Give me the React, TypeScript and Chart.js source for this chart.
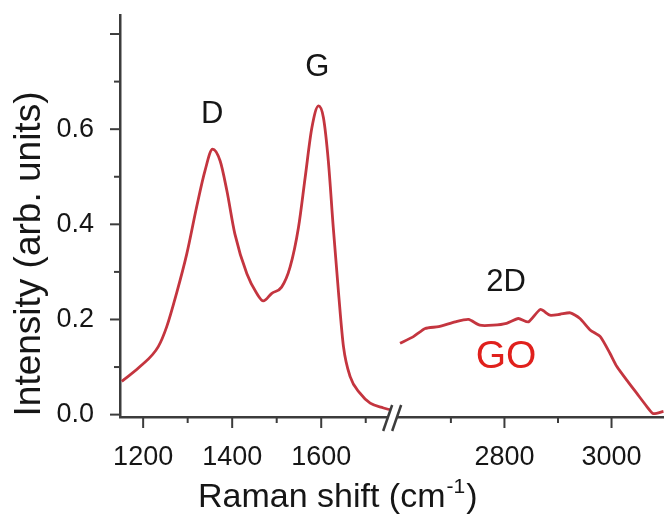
import React, { useEffect, useRef } from 'react';
import { Chart, registerables } from 'chart.js';

Chart.register(...registerables);

// ---- Data ----
// Left segment (D and G bands)
const leftShift = [1152, 1193, 1234, 1253, 1275, 1298, 1320, 1339, 1356, 1373, 1388, 1406, 1433, 1455, 1470, 1489, 1511, 1530, 1549, 1564, 1579, 1594, 1605, 1616, 1627, 1639, 1650, 1665, 1687, 1710, 1740, 1755];
const leftIntensity = [0.070, 0.101, 0.143, 0.185, 0.255, 0.338, 0.436, 0.513, 0.558, 0.533, 0.471, 0.380, 0.296, 0.255, 0.239, 0.255, 0.268, 0.310, 0.394, 0.499, 0.603, 0.649, 0.624, 0.533, 0.394, 0.255, 0.143, 0.080, 0.045, 0.024, 0.014, 0.010];
// Right segment (2D band)
const rightShift = [2605, 2630, 2652, 2677, 2708, 2733, 2754, 2779, 2804, 2826, 2845, 2867, 2885, 2904, 2923, 2941, 2960, 2979, 2997, 3010, 3028, 3047, 3066, 3078, 3097];
const rightIntensity = [0.150, 0.164, 0.181, 0.185, 0.195, 0.200, 0.188, 0.188, 0.192, 0.202, 0.195, 0.221, 0.209, 0.211, 0.214, 0.202, 0.178, 0.164, 0.129, 0.101, 0.073, 0.045, 0.017, 0.002, 0.007];

// Axis ranges and ticks
const leftRange = [1148, 1759];
const rightRange = [2590, 3098];
const yRange = [-0.005, 0.84];
const leftTickLabels = [1200, 1400, 1600];
const leftMinorTicks = [1300, 1500, 1700];
const rightTickLabels = [2800, 3000];
const rightMinorTicks = [2700, 2900];
const yTickLabels = [0, 0.2, 0.4, 0.6];
const yMajorTicks = [0, 0.2, 0.4, 0.6, 0.8];
const yMinorTicks = [0.1, 0.3, 0.5, 0.7];

// Band annotations (data coordinates)
const bandNames = ['D', 'G', '2D'];
const bandShift = [1355, 1591, 2803];
const bandLevel = [0.632, 0.729, 0.277];
const bandAxis = ['x', 'x', 'x2'];
const sampleName = 'GO';
const sampleShift = 2803;
const sampleLevel = 0.121;

const xTitle = 'Raman shift (cm';
const xTitleSup = '-1';
const yTitle = 'Intensity (arb. units)';

const FONT = "'Liberation Sans', Arial, Helvetica, sans-serif";
const AXIS = '#3c3c3c';
const TEXT = '#161616';
const LINE = '#c4353f';
const RED_TEXT = '#e0201c';

const overlayPlugin = {
  id: 'overlay',
  afterDraw(chart: any) {
    const ctx = chart.ctx as CanvasRenderingContext2D;
    const area = chart.chartArea;
    const xs = chart.scales.x;
    const xs2 = chart.scales.x2;
    const ys = chart.scales.y;
    const base = area.bottom;
    ctx.save();
    ctx.strokeStyle = AXIS;
    ctx.lineWidth = 2;
    ctx.lineCap = 'butt';
    const seg = (x1: number, y1: number, x2: number, y2: number) => {
      ctx.beginPath();
      ctx.moveTo(x1, y1);
      ctx.lineTo(x2, y2);
      ctx.stroke();
    };
    // x tick marks
    leftTickLabels.forEach((v) => { const p = xs.getPixelForValue(v); seg(p, base, p, base + 11); });
    leftMinorTicks.forEach((v) => { const p = xs.getPixelForValue(v); seg(p, base, p, base + 6); });
    rightTickLabels.forEach((v) => { const p = xs2.getPixelForValue(v); seg(p, base, p, base + 11); });
    rightMinorTicks.forEach((v) => { const p = xs2.getPixelForValue(v); seg(p, base, p, base + 6); });
    // y tick marks
    yMajorTicks.forEach((v) => { const p = ys.getPixelForValue(v); seg(area.left - 10, p, area.left, p); });
    yMinorTicks.forEach((v) => { const p = ys.getPixelForValue(v); seg(area.left - 6, p, area.left, p); });

    // axis break marks "//"
    const bx = xs.right;
    const slope = 9 / 26;
    const ax = bx - 4;
    const bxx = bx + 5;
    ctx.fillStyle = '#ffffff';
    ctx.beginPath();
    ctx.moveTo(ax - 4 * slope, base + 4);
    ctx.lineTo(bxx - 4 * slope, base + 4);
    ctx.lineTo(bxx + 4 * slope, base - 4);
    ctx.lineTo(ax + 4 * slope, base - 4);
    ctx.closePath();
    ctx.fill();
    ctx.lineWidth = 2.5;
    seg(ax - 14 * slope, base + 14, ax + 12 * slope, base - 12);
    seg(bxx - 14 * slope, base + 14, bxx + 12 * slope, base - 12);

    // band labels
    ctx.fillStyle = TEXT;
    ctx.textAlign = 'center';
    ctx.textBaseline = 'middle';
    ctx.font = `31px ${FONT}`;
    bandNames.forEach((name, i) => {
      const sc = chart.scales[bandAxis[i]];
      ctx.fillText(name, sc.getPixelForValue(bandShift[i]), ys.getPixelForValue(bandLevel[i]));
    });
    ctx.fillStyle = RED_TEXT;
    ctx.font = `39px ${FONT}`;
    ctx.fillText(sampleName, xs2.getPixelForValue(sampleShift), ys.getPixelForValue(sampleLevel));

    // y title
    ctx.fillStyle = TEXT;
    ctx.save();
    ctx.translate(30, 254);
    ctx.rotate(-Math.PI / 2);
    ctx.font = `37px ${FONT}`;
    ctx.textAlign = 'center';
    ctx.textBaseline = 'middle';
    ctx.fillText(yTitle, 0, 0);
    ctx.restore();

    // x title with superscript
    ctx.textAlign = 'left';
    ctx.textBaseline = 'alphabetic';
    const tx = 198;
    const ty = 507;
    ctx.font = `34px ${FONT}`;
    ctx.fillText(xTitle, tx, ty);
    let w = ctx.measureText(xTitle).width;
    ctx.font = `21px ${FONT}`;
    ctx.fillText(xTitleSup, tx + w + 1, ty - 14);
    w += ctx.measureText(xTitleSup).width + 2;
    ctx.font = `34px ${FONT}`;
    ctx.fillText(')', tx + w, ty);
    ctx.restore();
  },
};

export default function App() {
  const ref = useRef<HTMLCanvasElement | null>(null);
  useEffect(() => {
    if (!ref.current) return;
    const tickFont = { family: FONT, size: 27 };
    const xCommon = (range: number[], labels: number[]) => ({
      type: 'linear' as const,
      position: 'bottom' as const,
      stack: 'xstack',
      stackWeight: 1,
      min: range[0],
      max: range[1],
      grid: { display: false },
      border: { display: true, color: AXIS, width: 2.5 },
      ticks: {
        padding: 16,
        font: tickFont,
        color: TEXT,
        autoSkip: false,
        maxRotation: 0,
        callback: (v: any) => String(v),
      },
      afterBuildTicks: (s: any) => { s.ticks = labels.map((v) => ({ value: v })); },
      afterFit: (s: any) => { s.height = 103; s.paddingLeft = 0; s.paddingRight = 0; },
    });
    const chart = new Chart(ref.current, {
      type: 'line',
      data: {
        datasets: [
          {
            data: leftShift.map((x, i) => ({ x, y: leftIntensity[i] })),
            xAxisID: 'x',
            yAxisID: 'y',
            borderColor: LINE,
            borderWidth: 2.8,
            pointRadius: 0,
            cubicInterpolationMode: 'monotone',
            fill: false,
          },
          {
            data: rightShift.map((x, i) => ({ x, y: rightIntensity[i] })),
            xAxisID: 'x2',
            yAxisID: 'y',
            borderColor: LINE,
            borderWidth: 2.8,
            pointRadius: 0,
            tension: 0.2,
            fill: false,
          },
        ],
      },
      options: {
        animation: false,
        responsive: false,
        devicePixelRatio: 1,
        layout: { padding: { top: 15, left: 0, right: 0, bottom: 0 } },
        plugins: { legend: { display: false }, tooltip: { enabled: false } },
        scales: {
          x: xCommon(leftRange, leftTickLabels),
          x2: xCommon(rightRange, rightTickLabels),
          y: {
            type: 'linear',
            position: 'left',
            min: yRange[0],
            max: yRange[1],
            grid: { display: false },
            border: { display: true, color: AXIS, width: 2.5 },
            ticks: {
              padding: 18,
              font: tickFont,
              color: TEXT,
              callback: (v: any) => Number(v).toFixed(1),
            },
            afterBuildTicks: (s: any) => { s.ticks = yTickLabels.map((v) => ({ value: v })); },
            afterFit: (s: any) => { s.width = 120; s.paddingTop = 0; s.paddingBottom = 0; },
          },
        },
      } as any,
      plugins: [overlayPlugin],
    });
    return () => chart.destroy();
  }, []);
  return (
    <div style={{ position: 'absolute', left: 0, top: 0, width: 664, height: 520, background: '#fff' }}>
      <canvas ref={ref} width={664} height={520} style={{ width: 664, height: 520, display: 'block' }} />
    </div>
  );
}
